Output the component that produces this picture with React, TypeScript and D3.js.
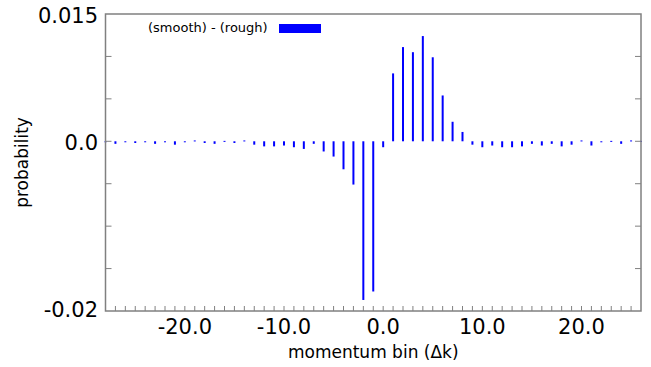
import React from "react";
import * as d3 from "d3";

const bins: number[] = d3.range(-28, 27);
const diffValues: number[] = [
  -0.00005, -0.0003, -0.0001, -0.0002, -0.0001, -0.0003, -0.0001, -0.0004, -0.00005, 0.0001,
  -0.0002, -0.0003, 0.00005, -0.0002, 0.0001, -0.0004, -0.0006, -0.0006, -0.0005, -0.0007,
  -0.0009, -0.0003, -0.0012, -0.0018, -0.0033, -0.0051, -0.0187, -0.0177, -0.0007, 0.008,
  0.0111, 0.0105, 0.0124, 0.0099, 0.0054, 0.0023, 0.0011, -0.0004, -0.0007, -0.0005,
  -0.0007, -0.0007, -0.0006, -0.0003, -0.0005, -0.0003, -0.0006, -0.0004, 0.0001, -0.0005,
  -0.00005, 0.00005, -0.0003, 0.0001, 0.00005,
];
const xTickLabels: number[] = [-20, -10, 0, 10, 20];
const yTickLabels: { v: number; label: string }[] = [
  { v: 0.015, label: "0.015" },
  { v: 0.0, label: "0.0" },
  { v: -0.02, label: "-0.02" },
];
const yMinorTicks: number[] = [0.01, 0.005, 0, -0.005, -0.01, -0.015];
const legendLabel = "(smooth) - (rough)";
const xTitle = "momentum bin (\u0394k)";
const yTitle = "probability";

const W = 651;
const H = 367;
const M = { left: 105.5, right: 641, top: 14, bottom: 311 };
const FONT = "'DejaVu Sans', Verdana, sans-serif";
const AXIS = "#808080";
const BLUE = "#0000ff";

export default function App() {
  const x = d3.scaleLinear().domain([-28, 26]).range([M.left, M.right]);
  const y = d3.scaleLinear().domain([-0.02, 0.015]).range([M.bottom, M.top]);
  const y0 = y(0);
  const xMinor = d3.range(-27, 26);

  return (
    <svg
      width={W}
      height={H}
      style={{ position: "absolute", left: 0, top: 0, background: "#fff" }}
      fontFamily={FONT}
    >
      <rect x={0} y={0} width={W} height={H} fill="#fff" />
      {/* bars */}
      {bins.map((k, i) => {
        const v = diffValues[i];
        const yv = y(v);
        const top = Math.min(yv, y0);
        const h = Math.max(Math.abs(yv - y0), 1);
        return <rect key={k} x={x(k) - 1} y={top} width={2} height={h} fill={BLUE} />;
      })}
      {/* ticks */}
      {xMinor.map((k) => (
        <line key={"xt" + k} x1={x(k)} x2={x(k)} y1={M.bottom} y2={M.bottom - 5} stroke={AXIS} strokeWidth={1} />
      ))}
      {yMinorTicks.map((v) => (
        <g key={"yt" + v}>
          <line x1={M.left} x2={M.left + 6} y1={y(v)} y2={y(v)} stroke={AXIS} strokeWidth={1} />
          <line x1={M.right} x2={M.right - 6} y1={y(v)} y2={y(v)} stroke={AXIS} strokeWidth={1} />
        </g>
      ))}
      {/* frame */}
      <rect
        x={M.left}
        y={M.top}
        width={M.right - M.left}
        height={M.bottom - M.top}
        fill="none"
        stroke={AXIS}
        strokeWidth={1.5}
      />
      {/* y tick labels */}
      {yTickLabels.map((t) => (
        <text
          key={t.label}
          x={98}
          y={Math.min(y(t.v) + 8.5, 317)}
          textAnchor="end"
          fontSize={21}
          fill="#000"
        >
          {t.label}
        </text>
      ))}
      {/* x tick labels */}
      {xTickLabels.map((v) => (
        <text key={"xl" + v} x={x(v)} y={333.5} textAnchor="middle" fontSize={21} fill="#000">
          {v.toFixed(1)}
        </text>
      ))}
      {/* axis titles */}
      <text x={(M.left + M.right) / 2} y={358} textAnchor="middle" fontSize={17} fill="#000">
        {xTitle}
      </text>
      <text
        transform={`translate(21.5, ${(M.top + M.bottom) / 2}) rotate(-90)`}
        textAnchor="middle"
        dominantBaseline="central"
        fontSize={17}
        fill="#000"
      >
        {yTitle}
      </text>
      {/* legend */}
      <text x={148} y={32} fontSize={13} fill="#000">
        {legendLabel}
      </text>
      <rect x={279} y={24} width={42} height={9} fill={BLUE} />
    </svg>
  );
}
